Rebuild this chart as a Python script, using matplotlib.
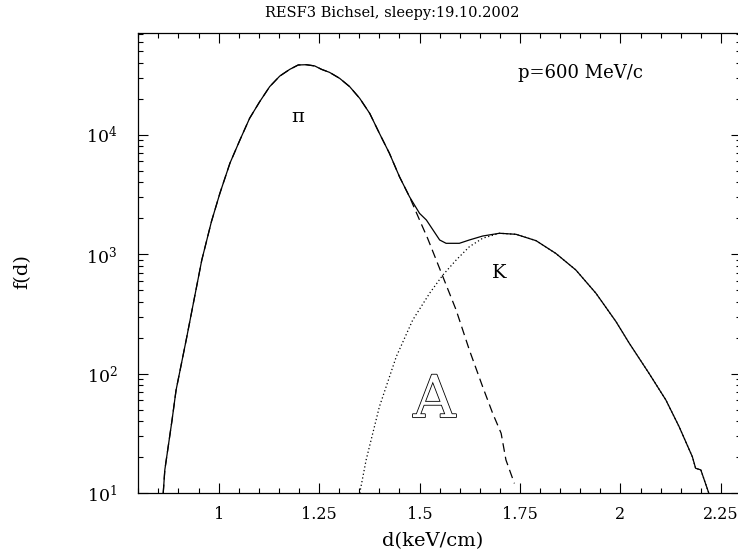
#dE/dx spectrum plot: pi + K at p=600 MeV/c, log scale
#values

import matplotlib
matplotlib.use("Agg")
import matplotlib.pyplot as plt
import matplotlib.patheffects as pe
from matplotlib.ticker import MultipleLocator, LogLocator, NullFormatter

plt.rcParams['font.family'] = ['DejaVu Serif']
plt.rcParams['mathtext.fontset'] = 'dejavuserif'

#total spectrum (solid)
d_total = [0.862, 0.866, 0.884, 0.894, 0.920, 0.937, 0.958, 0.982, 1.003, 1.028,
           1.053, 1.077, 1.102, 1.127, 1.152, 1.177, 1.198, 1.218, 1.239, 1.256,
           1.276, 1.301, 1.326, 1.351, 1.376, 1.400, 1.425, 1.450, 1.475, 1.500,
           1.517, 1.550, 1.566, 1.599, 1.624, 1.657, 1.699, 1.740, 1.790, 1.839,
           1.889, 1.939, 1.989, 2.022, 2.071, 2.113, 2.146, 2.179, 2.187, 2.200, 2.220]
f_total = [10, 15.7, 41, 73, 198, 389, 895, 1877, 3236, 5780,
           9060, 13740, 18900, 25300, 31000, 35300, 38400, 38600, 37700, 35300,
           33300, 29700, 25300, 20200, 15100, 10300, 7000, 4460, 3030, 2200,
           1936, 1318, 1236, 1236, 1318, 1422, 1500, 1470, 1300, 1018,
           739, 472, 273, 180, 101, 60.4, 36.1, 20.2, 16.2, 15.7, 10]

#pion only (dashed)
d_pi = [0.862, 0.866, 0.884, 0.894, 0.920, 0.937, 0.958, 0.982, 1.003, 1.028,
        1.053, 1.077, 1.102, 1.127, 1.152, 1.177, 1.198, 1.218, 1.239, 1.256,
        1.276, 1.301, 1.326, 1.351, 1.376, 1.400, 1.425, 1.450, 1.475, 1.500,
        1.520, 1.558, 1.591, 1.624, 1.657, 1.682, 1.703, 1.715, 1.736]
f_pi = [10, 15.7, 41, 73, 198, 389, 895, 1877, 3236, 5780,
        9060, 13740, 18900, 25300, 31000, 35300, 38400, 38600, 37700, 35300,
        33300, 29700, 25300, 20200, 15100, 10300, 7000, 4460, 3030, 1936,
        1362, 650, 342, 158, 78, 46.7, 31.8, 19.0, 12.1]

#kaon only (dotted)
d_k = [1.351, 1.367, 1.400, 1.442, 1.483, 1.525, 1.558, 1.591, 1.624, 1.657,
       1.699, 1.740, 1.790, 1.839, 1.889, 1.939, 1.989, 2.022, 2.071, 2.113,
       2.146, 2.179, 2.187, 2.200, 2.220]
f_k = [10, 19.0, 53, 139, 282, 472, 671, 895, 1158, 1362,
       1500, 1470, 1300, 1018, 739, 472, 273, 180, 101, 60.4,
       36.1, 20.2, 16.2, 15.7, 10]

xtick_vals = [1, 1.25, 1.5, 1.75, 2, 2.25]
xtick_text = ['1', '1.25', '1.5', '1.75', '2', '2.25']

W, H = 738, 555
fig = plt.figure(figsize=(W/100, H/100), dpi=100)
#frame in pixels: left 138, right 741 (just off the picture), top 33, bottom 493
ax = fig.add_axes([138.3/W, 1-493.3/H, (741-138.3)/W, (493.3-33.3)/H])

ax.plot(d_total, f_total, 'k-', lw=0.9)
ax.plot(d_pi, f_pi, 'k--', lw=0.9, dashes=(7, 4))
ax.plot(d_k, f_k, 'k:', lw=0.9, dashes=(1, 2))

ax.set_yscale('log')
ax.set_xlim(0.8, 2.3)
ax.set_ylim(10, 7.07e4)

ax.xaxis.set_minor_locator(MultipleLocator(0.05))
ax.set_xticks(xtick_vals)
ax.set_xticklabels(xtick_text)
ax.yaxis.set_major_locator(LogLocator(base=10))
ax.yaxis.set_minor_locator(LogLocator(base=10, subs=range(2, 10)))
ax.yaxis.set_minor_formatter(NullFormatter())

ax.tick_params(which='both', direction='in', top=True, right=True, width=0.8)
ax.tick_params(which='major', length=7)
ax.tick_params(which='minor', length=3.5)
ax.tick_params(axis='x', pad=9, labelsize=11.5)
ax.tick_params(axis='y', pad=15, labelsize=12.5)
for s in ax.spines.values():
    s.set_linewidth(0.9)

#labels and annotations, placed in picture pixels
def fx(px):
    return px/W
def fy(py):
    return 1 - py/H

fig.text(fx(392), fy(13), 'RESF3 Bichsel, sleepy:19.10.2002', ha='center', va='center', fontsize=10.5)
fig.text(fx(433), fy(541), 'd(keV/cm)', ha='center', va='center', fontsize=14)
fig.text(fx(22), fy(272), 'f(d)', ha='center', va='center', rotation=90, fontsize=14)
fig.text(fx(580), fy(73), 'p=600 MeV/c', ha='center', va='center', fontsize=13)

ax.text(1.197, 1.41e4, 'π', ha='center', va='center', fontsize=14)
ax.text(1.699, 697, 'K', ha='center', va='center', fontsize=14)
ax.text(1.537, 59, 'A', ha='center', va='center', fontsize=42, color='white',
        path_effects=[pe.withStroke(linewidth=1.2, foreground='black')])

fig.savefig('out.png', dpi=100)
